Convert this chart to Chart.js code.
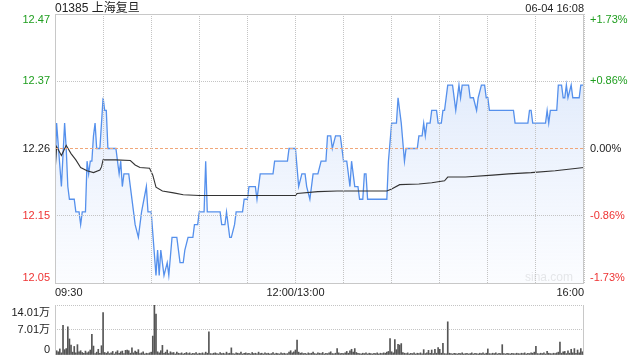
<!DOCTYPE html>
<html lang="zh">
<head>
  <meta charset="UTF-8" />
  <title>01385 上海复旦</title>
  <script src="https://cdn.jsdelivr.net/npm/chart.js"></script>
  <style>
    html, body { margin: 0; padding: 0; background: #fff; }
    #wrap { position: relative; width: 640px; height: 360px; overflow: hidden; font-family: "Liberation Sans", Arial, "Noto Sans CJK SC", sans-serif; }
    #priceChart { position: absolute; left: 0; top: 0; }
    #volChart { position: absolute; left: 0; top: 302px; }
    .head { position: absolute; top: 1px; font-size: 12px; color: #222; line-height: 14px; }
  </style>
</head>
<body>
<div id="wrap">
  <canvas id="priceChart" width="640" height="302"></canvas>
  <canvas id="volChart" width="640" height="58"></canvas>
  <div class="head" style="left:55px;">01385 上海复旦</div>
  <div class="head" style="right:56px; font-size:11px;">06-04 16:08</div>
</div>

<script>
  // minutes since 09:30 (lunch break removed, 330 = 16:00)
  const totalMinutes = 330;
  const prevClose = 12.26;

  const priceTicks = [12.048, 12.154, 12.26, 12.366, 12.472];
  const priceLabels = ['12.05', '12.15', '12.26', '12.37', '12.47'];
  const pctLabels = ['-1.73%', '-0.86%', '0.00%', '+0.86%', '+1.73%'];

  const timeMinutes = [0, 150, 330];
  const timeLabels = ['09:30', '12:00/13:00', '16:00'];

  const volTicks = [0, 7.01, 14.01];
  const volLabels = ['0', '7.01万', '14.01万'];

  // price line turning points
  const priceMinutes = [
    0, 1, 4, 6, 7, 8, 9, 12, 13, 15, 16, 17, 19, 20, 21, 22, 23, 24, 25, 26, 28,
    30, 31, 32, 33, 38, 39, 40, 41, 42, 43, 46, 47, 49, 50, 52, 54, 57, 58,
    60, 63, 64, 65, 66, 68, 70, 71, 73, 76, 78, 80, 81, 83, 86, 87, 89,
    90, 93, 94, 95, 103, 104, 106, 107, 109, 110, 112, 113, 117, 118,
    120, 121, 125, 126, 128, 136, 137, 145, 146,
    150, 152, 154, 156, 157, 159, 161, 164, 166, 169, 170, 172, 173, 175, 178,
    180, 182, 184, 185, 187, 189, 190, 192, 193, 194, 195, 207, 208,
    210, 213, 214, 216, 218, 219, 226, 227, 229, 230, 231, 232, 234, 235, 238, 239,
    241, 242, 243, 245, 248, 250, 252, 253, 254, 258, 259, 261, 263, 264, 266, 268, 269,
    270, 271, 286, 287, 295, 296, 297, 298,
    306, 307, 308, 309, 313, 314, 316, 317, 318, 319, 320, 322, 323, 327, 328, 330
  ];
  const prices = [
    12.22, 12.30, 12.20, 12.30, 12.26, 12.20, 12.18, 12.18, 12.16, 12.16, 12.14, 12.16, 12.16, 12.24, 12.22, 12.24, 12.24, 12.28, 12.30, 12.26, 12.26,
    12.34, 12.32, 12.32, 12.26, 12.26, 12.24, 12.22, 12.24, 12.20, 12.22, 12.22, 12.20, 12.16, 12.14, 12.12, 12.16, 12.20, 12.16,
    12.16, 12.06, 12.10, 12.06, 12.10, 12.06, 12.08, 12.06, 12.12, 12.12, 12.08, 12.08, 12.10, 12.12, 12.12, 12.14, 12.14,
    12.16, 12.16, 12.24, 12.16, 12.16, 12.14, 12.14, 12.16, 12.12, 12.12, 12.14, 12.16, 12.16, 12.18,
    12.18, 12.20, 12.20, 12.18, 12.22, 12.22, 12.24, 12.24, 12.26,
    12.26, 12.20, 12.22, 12.22, 12.20, 12.18, 12.22, 12.22, 12.24, 12.24, 12.28, 12.28, 12.26, 12.28, 12.28,
    12.24, 12.24, 12.20, 12.24, 12.20, 12.20, 12.18, 12.18, 12.22, 12.22, 12.18, 12.18, 12.24,
    12.30, 12.30, 12.34, 12.30, 12.24, 12.26, 12.26, 12.28, 12.28, 12.30, 12.28, 12.30, 12.30, 12.32, 12.32, 12.30,
    12.30, 12.32, 12.32, 12.36, 12.36, 12.32, 12.36, 12.34, 12.36, 12.36, 12.34, 12.34, 12.32, 12.34, 12.36, 12.36, 12.34,
    12.34, 12.32, 12.32, 12.30, 12.30, 12.32, 12.32, 12.30,
    12.30, 12.32, 12.30, 12.32, 12.32, 12.36, 12.36, 12.34, 12.34, 12.36, 12.34, 12.36, 12.34, 12.34, 12.36, 12.36
  ];

  // average price line
  const avgMinutes = [0, 1, 4, 7, 10, 13, 16, 20, 24, 28, 29, 30, 38, 47, 50, 53, 59, 61, 63, 67, 74, 80, 90, 109,
    150, 151, 164, 176, 188, 207, 210, 215, 227, 235, 243, 245, 256, 273, 283, 297, 312, 330];
  const avgPrices = [12.221, 12.263, 12.249, 12.265, 12.252, 12.242, 12.230, 12.225, 12.222, 12.226, 12.231, 12.242, 12.242, 12.241, 12.234, 12.230, 12.229, 12.218, 12.199, 12.193, 12.190, 12.187, 12.186, 12.186,
    12.186, 12.189, 12.192, 12.193, 12.193, 12.193, 12.196, 12.203, 12.204, 12.206, 12.209, 12.215, 12.215, 12.218, 12.220, 12.222, 12.225, 12.230];

  // volume per minute, in 万 shares
  const volumes = [
    1.4, 1.2, 0.9, 1.7, 0.6, 8.3, 1.5, 1.8, 7.9, 4.5, 2.8, 0.8, 2.4, 0.6, 2.9, 0.9, 1.2, 0.7, 0.5, 1.1, 0.6, 0.9, 1.4, 5.8, 2.5, 0.4, 0.8, 1.6, 0.5, 2.6,
    11.9, 0.7, 0.5, 0.9, 0.4, 0.6, 1.0, 0.3, 0.8, 1.2, 0.5, 0.9, 1.1, 0.4, 1.3, 1.4, 1.2, 0.5, 2.0, 0.6, 1.1, 0.8, 1.5, 0.4, 0.6, 0.9, 0.3, 0.5, 0.4, 0.6,
    0.8, 5.3, 14.01, 11.5, 0.9, 0.6, 1.2, 2.7, 0.5, 0.8, 1.4, 0.4, 0.9, 0.6, 0.7, 0.3, 0.8, 0.5, 0.4, 0.6, 0.3, 0.5, 0.7, 0.4, 0.6, 0.3, 0.5, 0.4, 0.7, 0.3,
    0.5, 0.4, 0.6, 0.3, 0.8, 0.5, 6.5, 0.4, 0.3, 0.5, 0.6, 0.4, 0.3, 0.7, 0.4, 0.5, 0.3, 0.8, 0.4, 0.5, 2.0, 0.4, 0.3, 0.6, 0.5, 0.4, 0.8, 0.3, 0.5, 0.6,
    0.4, 0.5, 0.3, 0.7, 0.4, 0.5, 0.3, 0.8, 0.4, 0.5, 0.3, 0.6, 0.4, 0.5, 0.3, 0.4, 0.7, 0.3, 0.5, 0.4, 0.3, 0.6, 0.4, 0.5, 0.3, 0.4, 0.8, 1.2, 0.6, 0.9,
    1.4, 4.2, 0.8, 0.5, 0.6, 0.4, 0.5, 0.3, 0.6, 0.4, 0.5, 0.8, 0.4, 0.3, 0.6, 0.5, 0.4, 0.7, 0.3, 0.5, 0.4, 0.6, 0.9, 0.4, 0.3, 0.5, 1.8, 0.6, 0.4, 0.5,
    0.4, 0.6, 1.0, 0.5, 1.2, 1.6, 0.8, 1.8, 0.7, 0.5, 0.4, 0.3, 0.5, 0.4, 0.6, 0.3, 0.5, 0.4, 0.3, 0.5, 0.4, 0.6, 0.3, 0.5, 0.4, 0.6, 0.5, 0.8, 1.0, 4.6,
    0.9, 0.6, 4.3, 1.5, 3.0, 2.8, 3.2, 0.7, 0.5, 0.4, 0.6, 0.3, 0.5, 0.4, 0.6, 0.3, 0.5, 0.4, 0.6, 0.3, 1.5, 0.4, 0.6, 1.3, 0.5, 1.4, 0.4, 1.6, 0.5, 2.1,
    1.6, 0.5, 3.3, 0.4, 0.3, 9.3, 0.5, 0.4, 0.3, 0.5, 0.4, 0.3, 0.5, 0.4, 0.6, 0.3, 0.4, 0.5, 0.3, 0.4, 0.6, 0.3, 0.5, 0.4, 0.3, 0.5, 0.4, 0.6, 0.3, 0.5,
    1.7, 0.4, 0.3, 0.5, 0.4, 0.6, 0.3, 0.5, 0.4, 2.9, 0.4, 0.3, 0.5, 0.4, 0.3, 0.5, 0.4, 0.3, 0.5, 0.4, 0.3, 0.5, 0.4, 0.6, 0.3, 0.5, 0.4, 0.6, 0.5, 0.8,
    2.4, 0.4, 0.3, 0.5, 0.4, 0.6, 0.3, 1.0, 0.5, 0.4, 0.3, 0.5, 0.4, 0.6, 0.8, 3.6, 0.5, 0.9, 1.0, 0.4, 1.2, 0.5, 1.6, 0.6, 1.8, 0.5, 1.4, 0.6, 1.8, 0.9, 3.6
  ];

  const GREEN = '#1f9e1f', RED = '#ee3333', DARK = '#222';
  const GRID = '#c4c4c4';
  const priceColors = [RED, RED, DARK, GREEN, GREEN];
  const FONT = '"Liberation Sans", Arial, "Noto Sans CJK SC", sans-serif';
  Chart.defaults.font.family = FONT;

  const pricePoints = priceMinutes.map((m, i) => ({ x: m, y: prices[i] }));
  const avgPoints = avgMinutes.map((m, i) => ({ x: m, y: avgPrices[i] }));
  const prevPoints = [{ x: 0, y: prevClose }, { x: totalMinutes, y: prevClose }];
  const volPoints = volumes.map((v, i) => ({ x: i, y: v }));

  const priceFrame = {
    id: 'priceFrame',
    beforeDatasetsDraw(chart) {
      const { ctx, chartArea: a } = chart;
      ctx.save();
      ctx.font = '12px ' + FONT;
      ctx.fillStyle = '#d6d6d6';
      ctx.textAlign = 'right';
      ctx.textBaseline = 'middle';
      ctx.fillText('sina.com', a.right - 11, a.bottom - 5);
      ctx.restore();
    },
    afterDraw(chart) {
      const { ctx, chartArea: a, scales } = chart;
      ctx.save();
      ctx.strokeStyle = '#c8c8c8';
      ctx.lineWidth = 1;
      ctx.strokeRect(Math.round(a.left) + 0.5, Math.round(a.top) + 0.5,
        Math.round(a.right - a.left) - 1, Math.round(a.bottom - a.top));

      ctx.font = '11px ' + FONT;
      ctx.textBaseline = 'middle';
      priceTicks.forEach((v, i) => {
        let y = scales.y.getPixelForValue(v);
        y = Math.min(Math.max(y, a.top + 6), a.bottom - 5);
        ctx.fillStyle = priceColors[i];
        ctx.textAlign = 'right';
        ctx.fillText(priceLabels[i], a.left - 5, y);
        ctx.textAlign = 'left';
        ctx.fillText(pctLabels[i], a.right + 6, y);
      });

      ctx.fillStyle = DARK;
      timeMinutes.forEach((m, i) => {
        const x = scales.x.getPixelForValue(m);
        ctx.textAlign = i === 0 ? 'left' : (i === timeMinutes.length - 1 ? 'right' : 'center');
        ctx.fillText(timeLabels[i], x, a.bottom + 10);
      });
      ctx.restore();
    }
  };

  const volFrame = {
    id: 'volFrame',
    afterDraw(chart) {
      const { ctx, chartArea: a, scales } = chart;
      ctx.save();
      ctx.strokeStyle = '#c8c8c8';
      ctx.lineWidth = 1;
      ctx.beginPath();
      ctx.moveTo(Math.round(a.left) + 0.5, a.top);
      ctx.lineTo(Math.round(a.left) + 0.5, a.bottom);
      ctx.moveTo(Math.round(a.right) - 0.5, a.top);
      ctx.lineTo(Math.round(a.right) - 0.5, a.bottom);
      ctx.stroke();

      ctx.font = '11px ' + FONT;
      ctx.textBaseline = 'middle';
      ctx.textAlign = 'right';
      ctx.fillStyle = DARK;
      volTicks.forEach((v, i) => {
        let y = scales.y.getPixelForValue(v);
        y = Math.min(Math.max(y, a.top + 8), a.bottom - 5);
        ctx.fillText(volLabels[i], a.left - 5, y);
      });
      ctx.restore();
    }
  };

  new Chart(document.getElementById('priceChart'), {
    type: 'line',
    data: {
      datasets: [
        {
          label: '价格',
          data: pricePoints,
          borderColor: '#5590ec',
          borderWidth: 1.3,
          pointRadius: 0,
          tension: 0,
          fill: 'start',
          order: 3,
          backgroundColor: (c) => {
            const area = c.chart.chartArea;
            if (!area) return 'rgba(220,232,250,0.6)';
            const g = c.chart.ctx.createLinearGradient(0, area.top, 0, area.bottom);
            g.addColorStop(0, 'rgba(200,218,248,0.75)');
            g.addColorStop(1, 'rgba(246,249,255,0.45)');
            return g;
          }
        },
        {
          label: '均价',
          data: avgPoints,
          borderColor: '#333',
          borderWidth: 1.1,
          pointRadius: 0,
          tension: 0,
          fill: false,
          order: 2
        },
        {
          label: '昨收',
          data: prevPoints,
          borderColor: '#f0a679',
          borderWidth: 1,
          borderDash: [3, 2],
          pointRadius: 0,
          fill: false,
          order: 1
        }
      ]
    },
    options: {
      responsive: false,
      animation: false,
      layout: { padding: { left: 0, right: 56, top: 14, bottom: 19 } },
      plugins: { legend: { display: false }, tooltip: { enabled: false } },
      scales: {
        x: {
          type: 'linear',
          min: 0,
          max: totalMinutes,
          ticks: { display: false, stepSize: 30 },
          grid: { color: GRID, lineWidth: 1, drawTicks: false, z: 1 },
          border: { display: false, dash: [1, 1] },
          afterFit: (s) => { s.height = 0; }
        },
        y: {
          min: priceTicks[0],
          max: priceTicks[priceTicks.length - 1],
          afterBuildTicks: (s) => { s.ticks = priceTicks.map(v => ({ value: v })); },
          ticks: { display: false },
          grid: {
            lineWidth: 1,
            drawTicks: false,
            z: 1,
            color: (c) => (c.tick && c.tick.value === prevClose) ? 'rgba(0,0,0,0)' : GRID
          },
          border: { display: false, dash: [1, 1] },
          afterFit: (s) => { s.width = 55; }
        }
      }
    },
    plugins: [priceFrame]
  });

  new Chart(document.getElementById('volChart'), {
    type: 'bar',
    data: {
      datasets: [{
        label: '成交量',
        data: volPoints,
        backgroundColor: '#555',
        barThickness: 1
      }]
    },
    options: {
      responsive: false,
      animation: false,
      layout: { padding: { left: 0, right: 56, top: 3, bottom: 5 } },
      plugins: { legend: { display: false }, tooltip: { enabled: false } },
      scales: {
        x: {
          type: 'linear',
          min: 0,
          max: totalMinutes,
          offset: false,
          ticks: { display: false },
          grid: { display: false },
          border: { display: false },
          afterFit: (s) => { s.height = 0; }
        },
        y: {
          min: 0,
          max: volTicks[volTicks.length - 1],
          afterBuildTicks: (s) => { s.ticks = volTicks.map(v => ({ value: v })); },
          ticks: { display: false },
          grid: {
            lineWidth: 1,
            drawTicks: false,
            color: (c) => (c.tick && c.tick.value === 0) ? 'rgba(0,0,0,0)' : GRID
          },
          border: { display: false, dash: [1, 1] },
          afterFit: (s) => { s.width = 55; }
        }
      }
    },
    plugins: [volFrame]
  });
</script>
</body>
</html>
